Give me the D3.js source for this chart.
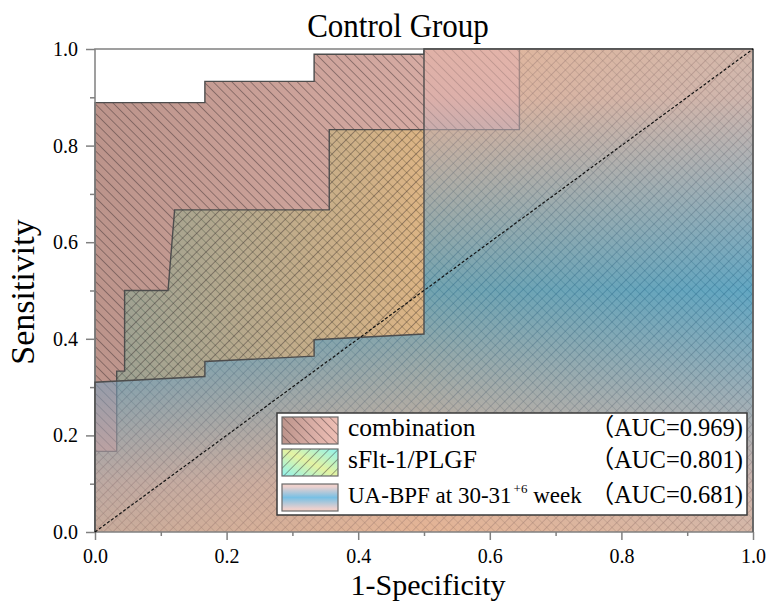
<!DOCTYPE html>
<html>
<head>
<meta charset="utf-8">
<script src="https://cdn.jsdelivr.net/npm/d3@7/dist/d3.min.js"></script>
<style>
  html, body { margin: 0; padding: 0; background: #fff; }
  svg { display: block; }
  text { font-family: "Liberation Serif", "Times New Roman", "Noto Sans CJK SC", serif; fill: #000; }
</style>
</head>
<body>
<svg id="chart" width="769" height="603"></svg>
<script>
// ---------------- data ----------------
const titleText = "Control Group";
const xLabel = "1-Specificity";
const yLabel = "Sensitivity";
const majorTicks = [0, 0.2, 0.4, 0.6, 0.8, 1.0];
const minorTicks = [0.1, 0.3, 0.5, 0.7, 0.9];
const tickLabels = ["0.0", "0.2", "0.4", "0.6", "0.8", "1.0"];

const seriesNames = ["combination", "sFlt-1/PLGF", "UA-BPF at 30-31"];
const aucLabels = ["（AUC=0.969)", "（AUC=0.801)", "（AUC=0.681)"];

// ROC points: [1-specificity, sensitivity]
const comboFPR = [0, 0, 0.167, 0.167, 0.333, 0.333, 0.5, 0.5, 1];
const comboTPR = [0, 0.889, 0.889, 0.933, 0.933, 0.989, 0.989, 1, 1];

const sfltFPR = [0, 0, 0.033, 0.033, 0.045, 0.045, 0.111, 0.121, 0.356, 0.356, 0.645, 0.645, 1];
const sfltTPR = [0, 0.167, 0.167, 0.333, 0.333, 0.5, 0.5, 0.667, 0.667, 0.833, 0.833, 1, 1];

const uaFPR = [0, 0, 0.167, 0.167, 0.333, 0.333, 0.5, 0.5, 1];
const uaTPR = [0, 0.31, 0.322, 0.353, 0.364, 0.398, 0.41, 1, 1];

const refLine = [[0, 0], [1, 1]];

// ---------------- layout ----------------
const svg = d3.select("#chart");
const X0 = 95, X1 = 753, Y0 = 532, Y1 = 49;
const x = d3.scaleLinear().domain([0, 1]).range([X0, X1]);
const y = d3.scaleLinear().domain([0, 1]).range([Y0, Y1]);

const zip = (a, b) => a.map((v, i) => [v, b[i]]);
const combo = zip(comboFPR, comboTPR);
const sflt = zip(sfltFPR, sfltTPR);
const ua = zip(uaFPR, uaTPR);

const defs = svg.append("defs");

function linGrad(id, x1, y1, x2, y2, stops) {
  const g = defs.append("linearGradient").attr("id", id)
    .attr("x1", x1).attr("y1", y1).attr("x2", x2).attr("y2", y2);
  stops.forEach(s => g.append("stop").attr("offset", s[0]).attr("stop-color", s[1]));
}
linGrad("gCombo", 0, 0, 1, 0, [[0, "#bc948b"], [0.5, "#d6aba3"], [1, "#eebfb5"]]);
linGrad("gSflt", 0, 0, 1, 0, [[0, "#5ab4a0"], [0.5, "#e6c44e"], [1, "#5ab4a0"]]);
linGrad("gSfltLeg", 0, 1, 1, 0, [[0, "#8ff3ef"], [0.5, "#e4f3a2"], [1, "#8ff3ef"]]);
linGrad("gUA", 0, 0, 0, 1, [[0, "#e8b6aa"], [0.1, "#e0b2ae"], [0.5, "#1f96d2"], [0.9, "#dab0ae"], [1, "#ecb4a2"]]);

function hatch(id, angle, size) {
  const p = defs.append("pattern").attr("id", id)
    .attr("patternUnits", "userSpaceOnUse")
    .attr("width", size).attr("height", size)
    .attr("patternTransform", `rotate(${angle})`);
  p.append("line").attr("x1", 0).attr("y1", -1).attr("x2", 0).attr("y2", size + 1)
    .attr("stroke", "#35282a").attr("stroke-width", 1).attr("stroke-opacity", 0.8);
}
hatch("hBack", -45, 6.6);   // "\\"
hatch("hFwd", 45, 6.6);     // "//"

const area = d3.area().x(d => x(d[0])).y0(y(0)).y1(d => y(d[1]));
const line = d3.line().x(d => x(d[0])).y(d => y(d[1]));
const lineColor = "#4d4d4d";

const plot = svg.append("g");

// combination
plot.append("path").attr("d", area(combo)).attr("fill", "url(#gCombo)");
plot.append("path").attr("d", area(combo)).attr("fill", "url(#hBack)");
plot.append("path").attr("d", line(combo)).attr("fill", "none").attr("stroke", lineColor).attr("stroke-width", 1.4);
// sFlt-1/PLGF
plot.append("path").attr("d", area(sflt)).attr("fill", "url(#gSflt)").attr("fill-opacity", 0.36);
plot.append("path").attr("d", area(sflt)).attr("fill", "url(#hFwd)");
plot.append("path").attr("d", line(sflt)).attr("fill", "none").attr("stroke", lineColor).attr("stroke-width", 1.4);
// UA-BPF
plot.append("path").attr("d", area(ua)).attr("fill", "url(#gUA)").attr("fill-opacity", 0.56);

// frame & axes
const axisColor = "#808080";
svg.append("rect").attr("x", X0).attr("y", Y1).attr("width", X1 - X0).attr("height", Y0 - Y1)
  .attr("fill", "none").attr("stroke", axisColor).attr("stroke-width", 1.5);
svg.append("line").attr("x1", X1).attr("x2", X1).attr("y1", Y1).attr("y2", Y0)
  .attr("stroke", "#5a5a5a").attr("stroke-width", 1.5);

const serif = '"Liberation Serif","Times New Roman",serif';
function styleAxis(g) {
  g.attr("font-family", serif).attr("font-size", 20);
  g.select(".domain").remove();
  g.selectAll(".tick line").attr("stroke", axisColor).attr("stroke-width", 1.5);
  g.selectAll(".tick text").style("font-size", "20px").style("font-family", serif).attr("fill", "#000");
}
const fmt = d => tickLabels[majorTicks.indexOf(d)];
svg.append("g").attr("transform", `translate(0,${Y0})`)
  .call(d3.axisBottom(x).tickValues(majorTicks).tickSize(8).tickPadding(9).tickFormat(fmt)).call(styleAxis);
svg.append("g").attr("transform", `translate(0,${Y0})`)
  .call(d3.axisBottom(x).tickValues(minorTicks).tickSize(4).tickFormat("")).call(styleAxis);
svg.append("g").attr("transform", `translate(${X0},0)`)
  .call(d3.axisLeft(y).tickValues(majorTicks).tickSize(9).tickPadding(8).tickFormat(fmt)).call(styleAxis);
svg.append("g").attr("transform", `translate(${X0},0)`)
  .call(d3.axisLeft(y).tickValues(minorTicks).tickSize(5).tickFormat("")).call(styleAxis);

// UA outline (on top)
svg.append("path").attr("d", line(ua)).attr("fill", "none")
  .attr("stroke", lineColor).attr("stroke-width", 1.4);

// chance diagonal
svg.append("path").attr("d", line(refLine)).attr("fill", "none")
  .attr("stroke", "#111").attr("stroke-width", 1.2).attr("stroke-dasharray", "3,2");

// titles
svg.append("text").attr("transform", "translate(398,37) scale(1,1.08)")
  .attr("text-anchor", "middle").style("font-size", "31px").text(titleText);
svg.append("text").attr("x", 428).attr("y", 595)
  .attr("text-anchor", "middle").style("font-size", "30px").text(xLabel);
svg.append("text").attr("transform", "translate(34,292) rotate(-90)")
  .attr("text-anchor", "middle").style("font-size", "34px").text(yLabel);

// legend
const leg = svg.append("g");
leg.append("rect").attr("x", 277).attr("y", 413).attr("width", 470).attr("height", 102)
  .attr("fill", "#fff").attr("stroke", "#3a3a3a").attr("stroke-width", 1.5);
const rowY = [430, 462, 497];
const swFill = [["url(#gCombo)", 1, "url(#hBack)"], ["url(#gSfltLeg)", 1, "url(#hFwd)"], ["url(#gUA)", 0.6, null]];
rowY.forEach((cy, i) => {
  const sw = leg.append("g").attr("transform", `translate(282,${cy - 13})`);
  sw.append("rect").attr("width", 56).attr("height", 27).attr("fill", swFill[i][0]).attr("fill-opacity", swFill[i][1]);
  if (swFill[i][2]) sw.append("rect").attr("width", 56).attr("height", 27).attr("fill", swFill[i][2]);
  sw.append("rect").attr("width", 56).attr("height", 27).attr("fill", "none")
    .attr("stroke", "#6a6a6a").attr("stroke-width", 1.2);
  const t = leg.append("text").attr("x", 348).attr("y", cy + 6).style("font-size", i === 2 ? "23px" : "25.5px");
  t.append("tspan").text(seriesNames[i]);
  if (i === 2) {
    t.append("tspan").attr("dx", 2).attr("dy", -10).style("font-size", "13px").text("+6");
    t.append("tspan").attr("dy", 10).text(" week");
  }
  leg.append("text").attr("x", 743).attr("y", cy + 6).attr("text-anchor", "end")
    .style("font-size", "24.5px").text(aucLabels[i]);
});
</script>
</body>
</html>
